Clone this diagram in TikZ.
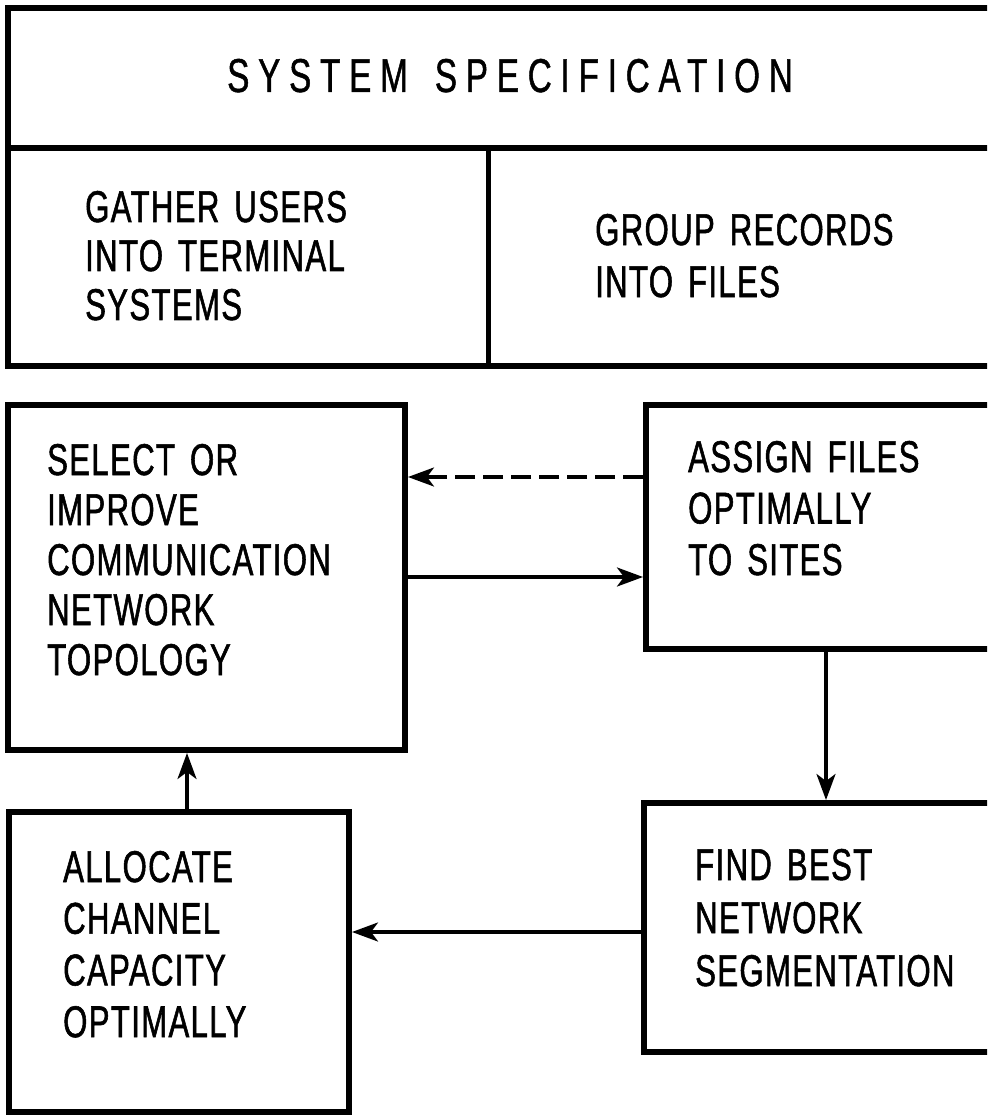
\documentclass[tikz,border=0pt]{standalone}
\usepackage{fontspec}
\setmainfont{Liberation Sans}[FakeStretch=0.70,LetterSpace=3,WordSpace=1.5,FakeBold=1.2]
\newfontfamily\titlefont{Liberation Sans}[FakeStretch=0.70,LetterSpace=18.5,WordSpace=1.5,FakeBold=1.0]
\usetikzlibrary{arrows.meta}

\begin{document}
\begin{tikzpicture}[x=1pt,y=-1pt,
  frame/.style={draw, line width=6pt},
  divider/.style={draw, line width=5pt},
  block/.style={rectangle, draw, line width=6pt, inner sep=0pt, minimum width=#1},
  blank/.style={rectangle, inner sep=0pt, minimum width=#1},
  flow/.style={line width=3.3pt, -{Stealth[length=26pt,width=19pt,inset=7pt]}},
  backflow/.style={flow, dash pattern=on 20pt off 8pt},
  label/.style={anchor=base west, inner sep=0pt, font=\fontsize{44.5}{#1}\selectfont},
  label/.default=50]

\clip (0,0) rectangle (987,1115);
\fill[white] (0,0) rectangle (987,1115);

% specification block with its two sub-tasks
\node[blank=1002, minimum height=140] (spec) at (509,78) {};
\node[blank=480, minimum height=218] (gather) at (248,257) {};
\node[blank=522, minimum height=218] (group) at (749,257) {};
\draw[frame] (spec.north west) rectangle (group.south east);
\draw[frame] (spec.south west) -- (spec.south east);
\draw[divider] (gather.north east) -- (gather.south east);

\node[anchor=base west, inner sep=0pt, font=\titlefont\fontsize{47.5}{50}\selectfont] (spectext) at (227,92) {SYSTEM SPECIFICATION};
\node[label=49] (gathertext) at (85,222) {\begin{tabular}[t]{@{}l@{}}GATHER USERS\\INTO TERMINAL\\SYSTEMS\end{tabular}};
\node[label=52] (grouptext) at (595,245) {\begin{tabular}[t]{@{}l@{}}GROUP RECORDS\\INTO FILES\end{tabular}};

% iteration loop
\node[block=397, minimum height=345] (select) at (206.5,577.5) {};
\node[block=365, minimum height=244] (assign) at (828.5,527) {};
\node[block=340, minimum height=300] (allocate) at (179,962) {};
\node[block=366, minimum height=249] (find) at (827,927.5) {};

\node[label] (selecttext) at (47,475) {\begin{tabular}[t]{@{}l@{}}SELECT OR\\IMPROVE\\COMMUNICATION\\NETWORK\\TOPOLOGY\end{tabular}};
\node[label=51.5] (assigntext) at (688,472) {\begin{tabular}[t]{@{}l@{}}ASSIGN FILES\\OPTIMALLY\\TO SITES\end{tabular}};
\node[label=51.7] (allocatetext) at (63,882) {\begin{tabular}[t]{@{}l@{}}ALLOCATE\\CHANNEL\\CAPACITY\\OPTIMALLY\end{tabular}};
\node[label=53] (findtext) at (695,880) {\begin{tabular}[t]{@{}l@{}}FIND BEST\\NETWORK\\SEGMENTATION\end{tabular}};

% connector heights and columns
\coordinate (yback) at (0,477);
\coordinate (yfwd) at (0,577);
\coordinate (ylow) at (0,932);
\coordinate (xright) at (826,0);
\coordinate (xleft) at (187,0);

\draw[backflow] (assign.west |- yback) -- (select.east |- yback);
\draw[flow] (select.east |- yfwd) -- (assign.west |- yfwd);
\draw[flow] (assign.south -| xright) -- (find.north -| xright);
\draw[flow] (find.west |- ylow) -- (allocate.east |- ylow);
\draw[flow] (allocate.north -| xleft) -- (select.south -| xleft);
\end{tikzpicture}
\end{document}
